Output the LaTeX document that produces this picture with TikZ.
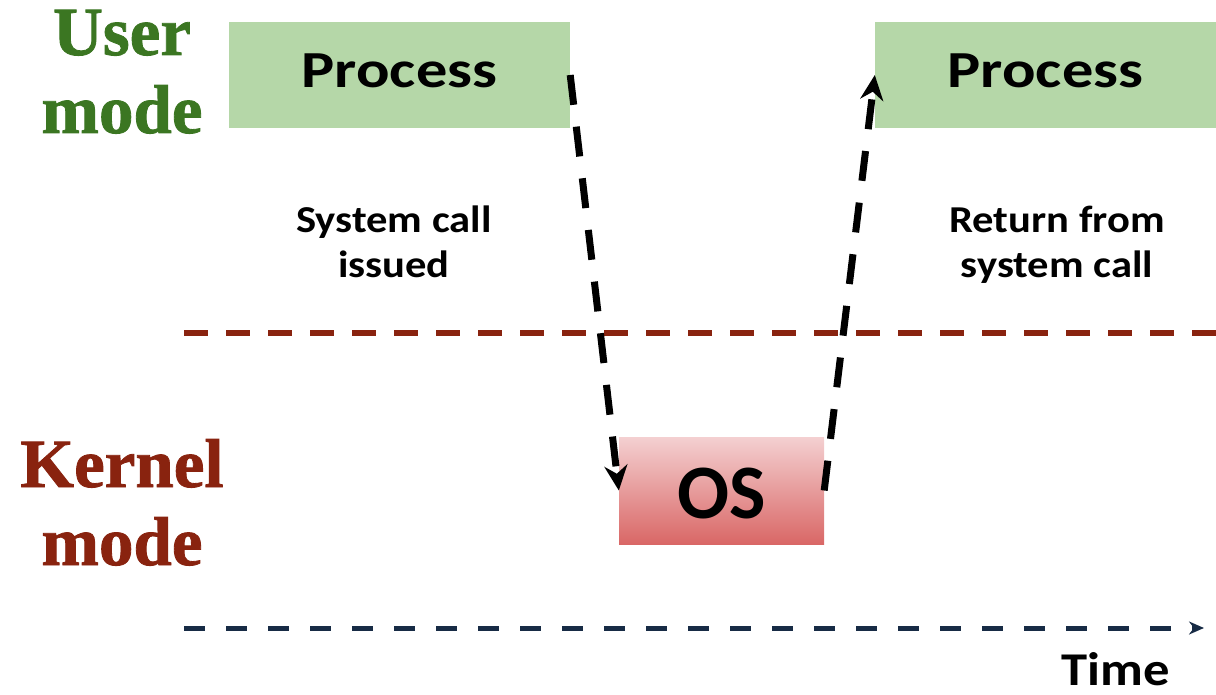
\documentclass[tikz,border=0pt]{standalone}
\usepackage{fontspec}
\setmainfont{Carlito}
\newfontfamily\labelfont{Carlito}[FakeStretch=1.12]
\newfontfamily\procfont{Carlito}[FakeStretch=1.2]
\newfontfamily\modefont{Liberation Serif Bold}[FakeBold=1.2]
\usetikzlibrary{arrows.meta}

\definecolor{usergreen}{HTML}{3B7622}
\definecolor{kernelred}{HTML}{89230F}
\definecolor{boxgreen}{HTML}{B5D7A8}
\definecolor{ostop}{HTML}{F4D0D1}
\definecolor{osbottom}{HTML}{D96766}
\definecolor{timenavy}{HTML}{172B45}

\begin{document}
\begin{tikzpicture}[x=1pt, y=-1pt,
  modelabel/.style={font=\modefont\fontsize{69}{78}\selectfont, align=center, anchor=base},
  procbox/.style={fill=boxgreen, minimum width=341pt, minimum height=106pt, inner sep=0pt,
    font=\procfont\bfseries\fontsize{52}{60}\selectfont, text height=32pt, text depth=6pt},
  oslabel/.style={font=\bfseries\fontsize{77}{90}\selectfont},
  note/.style={font=\labelfont\bfseries\fontsize{38}{45}\selectfont, align=center, anchor=base},
  callarrow/.style={line width=7pt, dash pattern=on 30pt off 22pt, -{Stealth[length=25pt, width=23pt]}},
]
\useasboundingbox (0,0) rectangle (1216,695);

% mode labels (anchored at the baseline of the second line)
\node[modelabel, text=usergreen] (user) at (122,133) {User\\mode};
\node[modelabel, text=kernelred] (kernel) at (122,565) {Kernel\\mode};

% process boxes in user mode
\node[procbox] (p1) at (399.5,75) {Process};
\node[procbox] (p2) at (1045.5,75) {Process};

% operating system box in kernel mode
\node[top color=ostop, bottom color=osbottom, minimum width=205pt, minimum height=107pt,
      inner sep=0pt, oslabel, text height=56pt, text depth=1pt] (os) at (721.5,490.5) {OS};

% notes
\node[note] (issued) at (394,277) {System call\\issued};
\node[note] (return) at (1057,277) {Return from\\system call};

% boundary between user and kernel mode
\coordinate (b0) at (184,333);
\coordinate (b1) at (1216,333);
\draw[kernelred, line width=6pt, dash pattern=on 24pt off 18pt] (b0) -- (b1);

% time axis
\coordinate (t0) at (184,628);
\coordinate (t1) at (1204,628);
\draw[timenavy, line width=5pt, dash pattern=on 21pt off 21pt,
      -{Stealth[length=15pt, width=13pt]}] (t0) -- (t1);
\node[font=\labelfont\bfseries\fontsize{47}{56}\selectfont, anchor=base] (time) at (1116,685) {Time};

% system call and return
\draw[callarrow] (p1.east) -- (os.west);
\draw[callarrow] (os.east) -- (p2.west);
\end{tikzpicture}
\end{document}
